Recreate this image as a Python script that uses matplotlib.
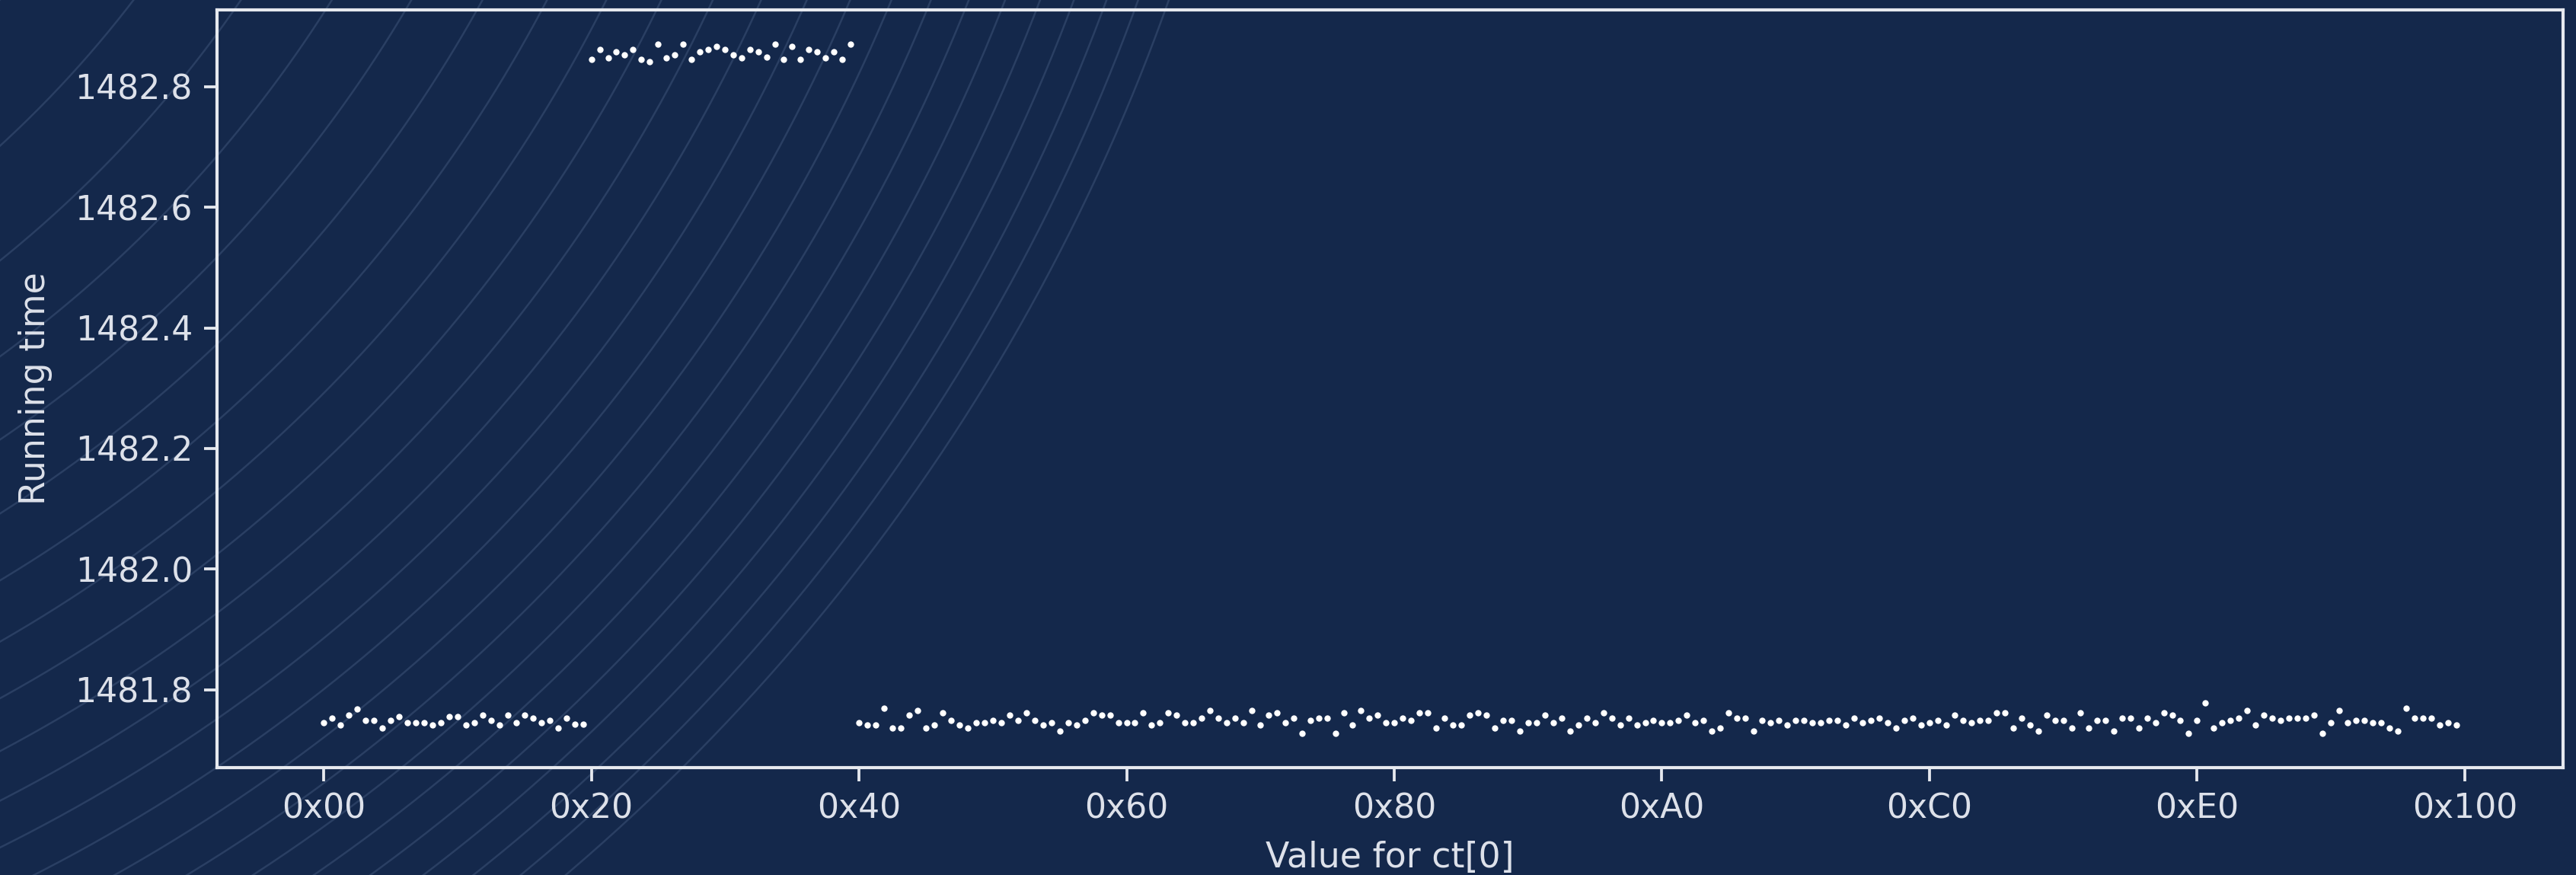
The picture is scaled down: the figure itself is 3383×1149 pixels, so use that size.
import numpy as np
import matplotlib
matplotlib.use("Agg")
import matplotlib.pyplot as plt
from matplotlib.ticker import FormatStrFormatter, FuncFormatter

# ---- data: running time for each value of ct[0] (0x00 .. 0xFF) ----
ct0_values = list(range(256))

times_00_1f = [1481.745, 1481.753, 1481.741, 1481.758, 1481.768, 1481.749, 1481.749, 1481.737,
               1481.749, 1481.756, 1481.745, 1481.745, 1481.745, 1481.741, 1481.745, 1481.756,
               1481.756, 1481.741, 1481.745, 1481.758, 1481.749, 1481.741, 1481.758, 1481.745,
               1481.758, 1481.753, 1481.745, 1481.749, 1481.737, 1481.753, 1481.743, 1481.743]

times_20_3f = [1482.845, 1482.862, 1482.848, 1482.858, 1482.853, 1482.862, 1482.845, 1482.841,
               1482.870, 1482.848, 1482.853, 1482.870, 1482.845, 1482.858, 1482.862, 1482.866,
               1482.862, 1482.853, 1482.848, 1482.862, 1482.858, 1482.849, 1482.870, 1482.845,
               1482.866, 1482.845, 1482.862, 1482.858, 1482.848, 1482.858, 1482.845, 1482.870]

times_40_ff = [
    1481.745, 1481.741, 1481.741, 1481.770, 1481.737, 1481.737, 1481.758, 1481.766,
    1481.737, 1481.741, 1481.762, 1481.749, 1481.741, 1481.737, 1481.745, 1481.745,
    1481.749, 1481.745, 1481.758, 1481.749, 1481.762, 1481.749, 1481.741, 1481.745,
    1481.732, 1481.745, 1481.741, 1481.749, 1481.762, 1481.758, 1481.758, 1481.745,
    1481.745, 1481.745, 1481.762, 1481.741, 1481.745, 1481.762, 1481.758, 1481.745,
    1481.745, 1481.753, 1481.766, 1481.753, 1481.745, 1481.753, 1481.745, 1481.766,
    1481.741, 1481.758, 1481.762, 1481.745, 1481.753, 1481.728, 1481.749, 1481.753,
    1481.753, 1481.728, 1481.762, 1481.741, 1481.766, 1481.753, 1481.758, 1481.745,
    1481.745, 1481.753, 1481.749, 1481.762, 1481.762, 1481.737, 1481.753, 1481.741,
    1481.741, 1481.758, 1481.762, 1481.758, 1481.737, 1481.749, 1481.749, 1481.732,
    1481.745, 1481.745, 1481.758, 1481.745, 1481.753, 1481.732, 1481.741, 1481.753,
    1481.745, 1481.762, 1481.753, 1481.741, 1481.753, 1481.741, 1481.745, 1481.749,
    1481.745, 1481.745, 1481.749, 1481.758, 1481.745, 1481.749, 1481.732, 1481.737,
    1481.762, 1481.753, 1481.753, 1481.732, 1481.749, 1481.745, 1481.749, 1481.741,
    1481.749, 1481.749, 1481.745, 1481.745, 1481.749, 1481.749, 1481.741, 1481.753,
    1481.745, 1481.749, 1481.753, 1481.745, 1481.737, 1481.749, 1481.753, 1481.741,
    1481.745, 1481.749, 1481.741, 1481.758, 1481.749, 1481.745, 1481.749, 1481.749,
    1481.762, 1481.762, 1481.737, 1481.753, 1481.741, 1481.732, 1481.758, 1481.749,
    1481.749, 1481.737, 1481.762, 1481.737, 1481.749, 1481.749, 1481.732, 1481.753,
    1481.753, 1481.737, 1481.753, 1481.745, 1481.762, 1481.758, 1481.749, 1481.728,
    1481.749, 1481.778, 1481.737, 1481.745, 1481.749, 1481.753, 1481.766, 1481.741,
    1481.758, 1481.753, 1481.749, 1481.753, 1481.753, 1481.753, 1481.758, 1481.728,
    1481.745, 1481.766, 1481.745, 1481.749, 1481.749, 1481.745, 1481.745, 1481.737,
    1481.732, 1481.770, 1481.753, 1481.753, 1481.753, 1481.741, 1481.745, 1481.741]

running_time = times_00_1f + times_20_3f + times_40_ff

xtick_values = [0x00, 0x20, 0x40, 0x60, 0x80, 0xA0, 0xC0, 0xE0, 0x100]
ytick_values = [1481.8, 1482.0, 1482.2, 1482.4, 1482.6, 1482.8]

BG = "#14284b"
FG = "#dde1ea"
W, H = 3383, 1149

fig = plt.figure(figsize=(W / 300, H / 300), dpi=300, facecolor=BG)

# faint concentric arcs in the background (pixel coords, y down)
bg = fig.add_axes([0, 0, 1, 1], zorder=-1)
bg.set_xlim(0, W)
bg.set_ylim(H, 0)
bg.set_facecolor(BG)
bg.axis("off")
cx, cy = -1000.0, -900.0
r_in, r_out = 1345.0, 2690.0
cubes = np.linspace(r_in ** 3, r_out ** 3, 22)
theta = np.linspace(0, np.pi / 2, 600)
for r in np.cbrt(cubes):
    bg.plot(cx + r * np.cos(theta), cy + r * np.sin(theta), color="#2a3f63", lw=0.6)

ax = fig.add_axes([285 / W, 1 - 1008 / H, (3366 - 285) / W, (1008 - 13) / H])
ax.set_facecolor("none")
ax.plot(ct0_values, running_time, "o", color="white", ms=2.0, mew=0, ls="none")

ax.set_xticks(xtick_values)
ax.xaxis.set_major_formatter(FuncFormatter(lambda v, p: f"0x{int(v):02X}"))
ax.set_yticks(ytick_values)
ax.yaxis.set_major_formatter(FormatStrFormatter("%.1f"))

for s in ax.spines.values():
    s.set_color("#e6e9ef")
    s.set_linewidth(1.0)
ax.tick_params(colors="#e6e9ef", labelcolor=FG, labelsize=10.6, width=0.9, length=4.2)
ax.set_xlabel("Value for ct[0]", color=FG, fontsize=11, labelpad=5)
ax.set_ylabel("Running time", color=FG, fontsize=11, labelpad=7)

fig.savefig("out.png", dpi=300, facecolor=BG)
